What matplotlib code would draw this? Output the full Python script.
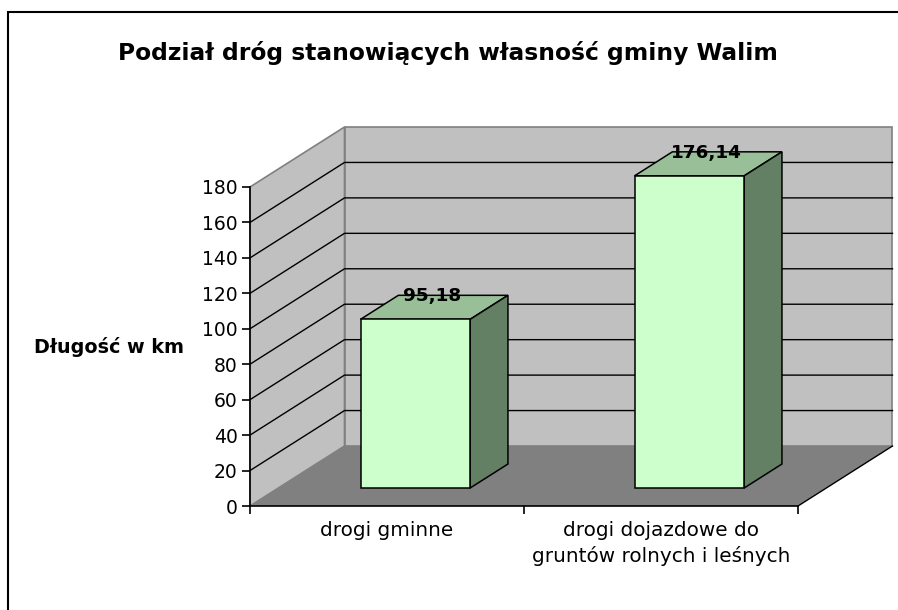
import matplotlib
matplotlib.use('Agg')
import matplotlib.pyplot as plt
from matplotlib.patches import Rectangle

plt.rcParams['font.family'] = ['DejaVu Sans']

## dane
kategorie = ['drogi gminne', 'drogi dojazdowe do\ngruntów rolnych i leśnych']
dlugosc = [95.18, 176.14]
etykiety = ['95,18', '176,14']
y_ticks = [0, 20, 40, 60, 80, 100, 120, 140, 160, 180]

W, H = 898, 610
# przednia plaszczyzna osi w pikselach
X0, X1, Y0, Y1 = 250, 798, 506, 187
ymax = 180
# glebokosc wykresu 3D wyrazona w jednostkach osi
dx = 94.5 / ((X1 - X0) / 2)
dy = 60 / ((Y0 - Y1) / ymax)

fig = plt.figure(figsize=(W / 100, H / 100), dpi=100)
ax = fig.add_axes([X0 / W, (H - Y0) / H, (X1 - X0) / W, (Y0 - Y1) / H])
ax.set_xlim(0, 2)
ax.set_ylim(0, ymax)
ax.patch.set_visible(False)
for s in ['top', 'right']:
    ax.spines[s].set_visible(False)
for s in ['left', 'bottom']:
    ax.spines[s].set_linewidth(1.2)
    ax.spines[s].set_zorder(8)


def poly(xs, ys, color, ec='none', lw=0, z=1):
    ax.fill(xs, ys, facecolor=color, edgecolor=ec, linewidth=lw, zorder=z, clip_on=False)


## sciany i podloga
poly([0, dx, dx, 0], [0, dy, ymax + dy, ymax], '#C0C0C0', '#808080', 1.2, 1)
poly([dx, 2 + dx, 2 + dx, dx], [dy, dy, ymax + dy, ymax + dy], '#C0C0C0', '#808080', 1.2, 1)
poly([0, 2, 2 + dx, dx], [0, 0, dy, dy], '#808080', z=2)

## siatka
for v in y_ticks[1:-1]:
    ax.plot([0, dx, 2 + dx], [v, v + dy, v + dy], color='black', lw=1.0, zorder=3, clip_on=False)
ax.plot([2, 2 + dx], [0, dy], color='black', lw=1.0, zorder=3, clip_on=False)

## slupki
szer = 0.4
for i, v in enumerate(dlugosc):
    l = i + 0.3 + 0.3 * dx
    r = l + szer
    b = 0.3 * dy
    g = 0.4 * dx
    h = 0.4 * dy
    poly([l, r, r + g, l + g], [b + v, b + v, b + v + h, b + v + h], '#99BF99', 'black', 1.1, 5)
    poly([r, r + g, r + g, r], [b, b + h, b + v + h, b + v], '#648064', 'black', 1.1, 5)
    poly([l, r, r, l], [b, b, b + v, b + v], '#CCFFCC', 'black', 1.1, 6)
    ax.text(l + szer / 2 + g / 2 - 0.007, b + v + h - 0.5, etykiety[i], ha='center', va='center',
            fontsize=13.2, fontweight='bold', color='black', zorder=9, clip_on=False)

## osie
ax.set_yticks(y_ticks)
ax.tick_params(axis='y', labelsize=13.5, length=6, width=1.2, pad=3)
ax.set_xticks([0, 1, 2])
ax.set_xticklabels([])
ax.tick_params(axis='x', length=6, width=1.2)
ax.set_xticks([0.5, 1.5], minor=True)
ax.set_xticklabels(kategorie, minor=True, fontsize=14.4, linespacing=1.33, va='top')
ax.tick_params(axis='x', which='minor', length=0, pad=11)

## opisy
fig.text(109.5 / W, 1 - 347 / H, 'Długość w km', ha='center', va='center', fontsize=13.8, fontweight='bold')
fig.text(447.5 / W, 1 - 53 / H, 'Podział dróg stanowiących własność gminy Walim', ha='center', va='center',
         fontsize=16.8, fontweight='bold')

## ramka
fig.add_artist(Rectangle((8.3 / W, -0.01), 2, 1 - 12 / H + 0.01, transform=fig.transFigure,
                         fill=False, edgecolor='black', linewidth=1.5))

fig.savefig('out.png', dpi=100)
